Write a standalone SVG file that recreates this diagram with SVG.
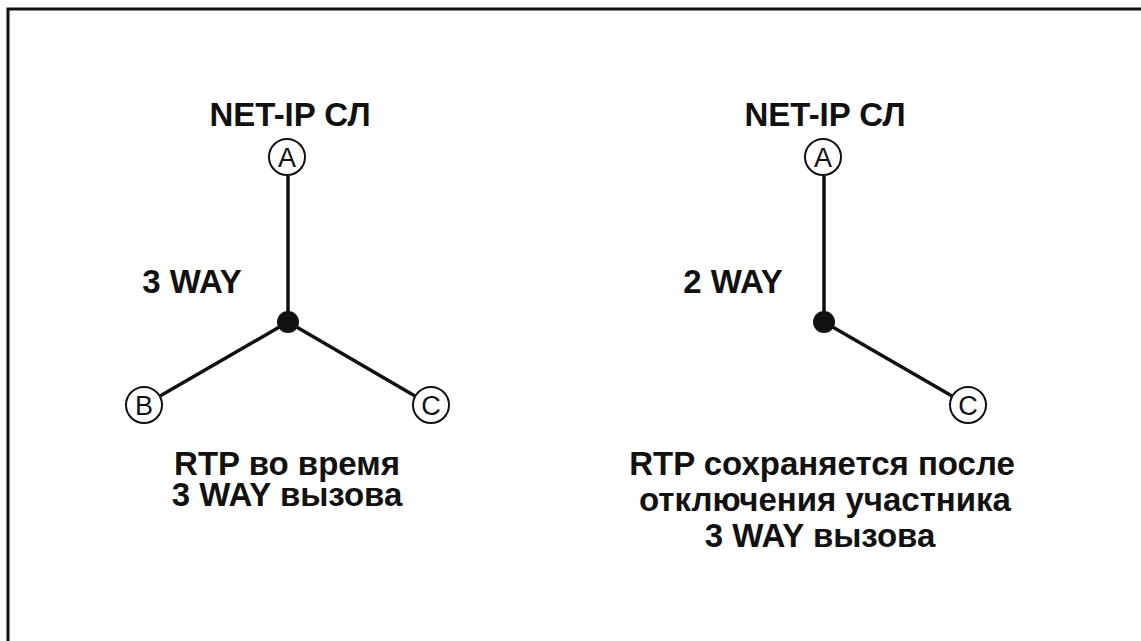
<svg xmlns="http://www.w3.org/2000/svg" width="1141" height="641" viewBox="0 0 1141 641">
<style>
.lbl{font-family:"Liberation Sans",Arial,sans-serif;font-weight:bold;font-size:33px;fill:#111;text-anchor:middle}
.nd{fill:#fff;stroke:#111;stroke-width:2}
.nt{font-family:"Liberation Sans",Arial,sans-serif;font-size:27px;fill:#111;text-anchor:middle}
.ln{stroke:#111;stroke-width:3.5;fill:none}
.dot{fill:#111}
</style>
<rect width="1141" height="641" fill="#fff"/>
<path d="M8 641 V9 H1141" fill="none" stroke="#111" stroke-width="3"/>
<g id="connectors">
<line class="ln" x1="288" y1="176" x2="288" y2="322"/>
<line class="ln" x1="288" y1="322" x2="160" y2="396"/>
<line class="ln" x1="288" y1="322" x2="415" y2="396"/>
<line class="ln" x1="824" y1="176" x2="824" y2="322"/>
<line class="ln" x1="824" y1="322" x2="952" y2="396"/>
</g>
<g id="left-junction"><circle class="dot" cx="288" cy="322" r="11"/></g>
<g id="right-junction"><circle class="dot" cx="824" cy="322" r="11"/></g>
<g id="left-A"><circle class="nd" cx="287" cy="157" r="18"/><text class="nt" x="287" y="167">A</text></g>
<g id="left-B"><circle class="nd" cx="144" cy="405" r="18"/><text class="nt" x="144" y="415">B</text></g>
<g id="left-C"><circle class="nd" cx="431" cy="405" r="18"/><text class="nt" x="431" y="415">C</text></g>
<g id="right-A"><circle class="nd" cx="823" cy="157" r="18"/><text class="nt" x="823" y="167">A</text></g>
<g id="right-C"><circle class="nd" cx="968" cy="405" r="18"/><text class="nt" x="968" y="415">C</text></g>
<g id="labels">
<text class="lbl" x="290" y="126">NET-IP СЛ</text>
<text class="lbl" x="825" y="126">NET-IP СЛ</text>
<text class="lbl" x="192" y="293">3 WAY</text>
<text class="lbl" x="733" y="293">2 WAY</text>
<text class="lbl" x="287" y="475">RTP во время</text>
<text class="lbl" x="287" y="506">3 WAY вызова</text>
<text class="lbl" x="822" y="475">RTP сохраняется после</text>
<text class="lbl" x="825" y="511">отключения участника</text>
<text class="lbl" x="820" y="547">3 WAY вызова</text>
</g>
</svg>
